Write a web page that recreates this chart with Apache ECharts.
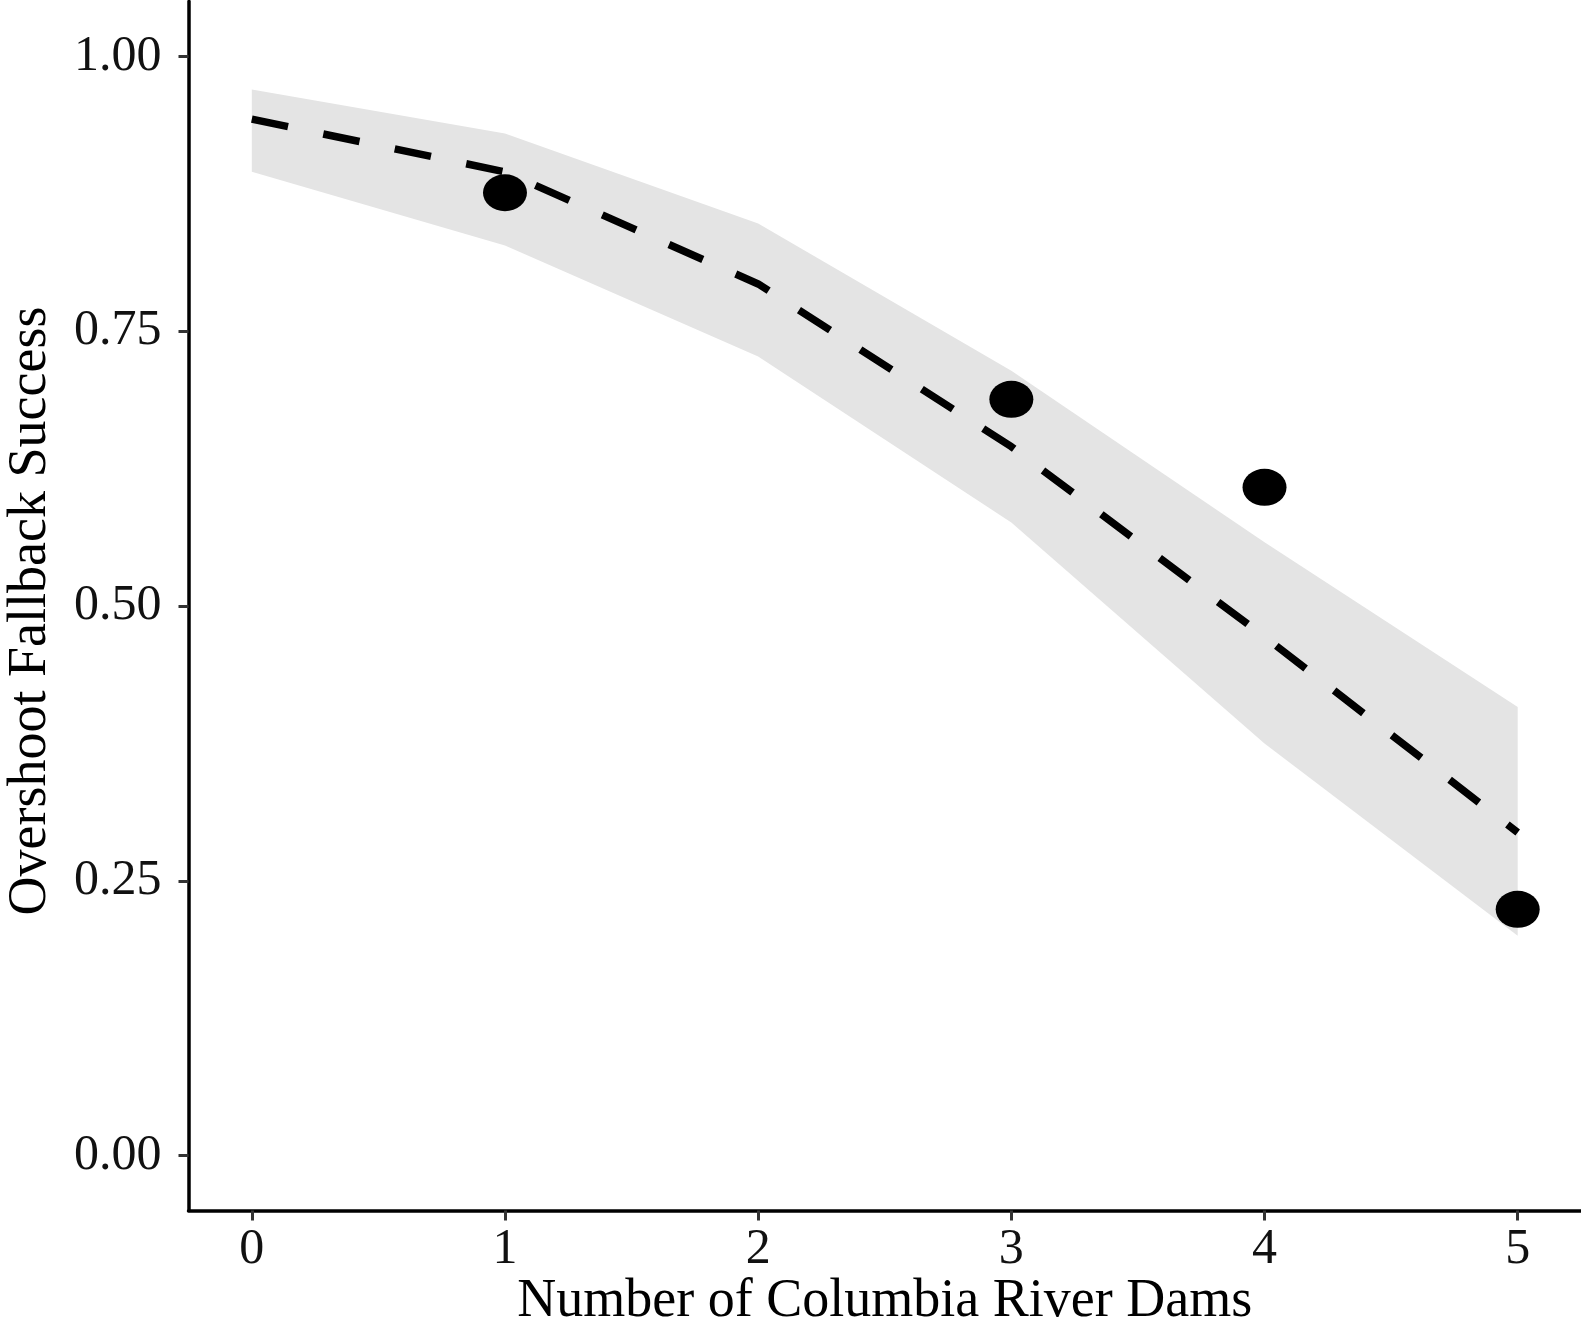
<!DOCTYPE html>
<html>
<head>
<meta charset="utf-8">
<script src="https://cdn.jsdelivr.net/npm/echarts@6/dist/echarts.min.js"></script>
<style>html,body{margin:0;padding:0;background:#fff}#c{width:1581px;height:1318px}</style>
</head>
<body>
<div id="c"></div>
<script>
// Data
const dams = [0, 1, 2, 3, 4, 5];
const fitted = [0.943, 0.895, 0.793, 0.645, 0.472, 0.294];
const ciLower = [0.895, 0.828, 0.727, 0.576, 0.375, 0.200];
const ciUpper = [0.970, 0.930, 0.848, 0.714, 0.558, 0.408];
const obsDams = [1, 3, 4, 5];
const obsSuccess = [0.876, 0.688, 0.608, 0.224];
const xTicks = [0, 1, 2, 3, 4, 5];
const yTicks = [0, 0.25, 0.5, 0.75, 1.0];

const font = '"Liberation Serif", "Times New Roman", serif';
const chart = echarts.init(document.getElementById('c'), null, {renderer: 'canvas'});

const bandData = dams.map((d, i) => [d, ciLower[i], ciUpper[i]]);
const lineData = dams.map((d, i) => [d, fitted[i]]);
const ptData = obsDams.map((d, i) => [d, obsSuccess[i]]);

chart.setOption({
  animation: false,
  backgroundColor: '#ffffff',
  grid: {left: 188.5, right: 0, top: 1.5, bottom: 107.5, containLabel: false, outerBoundsMode: 'none'},
  xAxis: {
    type: 'value', min: -0.25, max: 5.25,
    name: 'Number of Columbia River Dams', nameLocation: 'middle', nameGap: 64, nameMoveOverlap: false,
    nameTextStyle: {fontFamily: font, fontSize: 54, color: '#000'},
    axisLine: {show: true, onZero: false, lineStyle: {color: '#000', width: 3.5}},
    axisTick: {show: true, length: 10, customValues: xTicks, lineStyle: {color: '#333', width: 3}},
    axisLabel: {customValues: xTicks, margin: 14, fontFamily: font, fontSize: 50, color: '#111'},
    splitLine: {show: false}
  },
  yAxis: {
    type: 'value', min: -0.05, max: 1.05,
    name: 'Overshoot Fallback Success', nameLocation: 'middle', nameGap: 131, nameRotate: 90, nameMoveOverlap: false,
    nameTextStyle: {fontFamily: font, fontSize: 54, color: '#000', padding: [0, 10, 0, 0]},
    axisLine: {show: true, onZero: false, lineStyle: {color: '#000', width: 3.5}},
    axisTick: {show: true, length: 10, customValues: yTicks, lineStyle: {color: '#333', width: 3}},
    axisLabel: {customValues: yTicks, margin: 27, fontFamily: font, fontSize: 50, color: '#111',
      formatter: v => v.toFixed(2)},
    splitLine: {show: false}
  },
  series: [
    {
      type: 'custom', z: 1, silent: true,
      data: [0],
      renderItem: function (params, api) {
        const top = bandData.map(r => api.coord([r[0], r[2]]));
        const bot = bandData.slice().reverse().map(r => api.coord([r[0], r[1]]));
        return {type: 'polygon', shape: {points: top.concat(bot)}, style: {fill: '#e4e4e4', stroke: null}};
      }
    },
    {type: 'line', data: lineData, symbol: 'none', z: 3,
      lineStyle: {color: '#000', width: 7.5, type: [37, 36], cap: 'butt'}},
    {type: 'scatter', data: ptData, z: 4,
      symbol: 'path://M0,50 A50,50 0 1,0 100,50 A50,50 0 1,0 0,50 Z',
      symbolSize: [44, 37], itemStyle: {color: '#000', opacity: 1}}
  ]
});
</script>
</body>
</html>
